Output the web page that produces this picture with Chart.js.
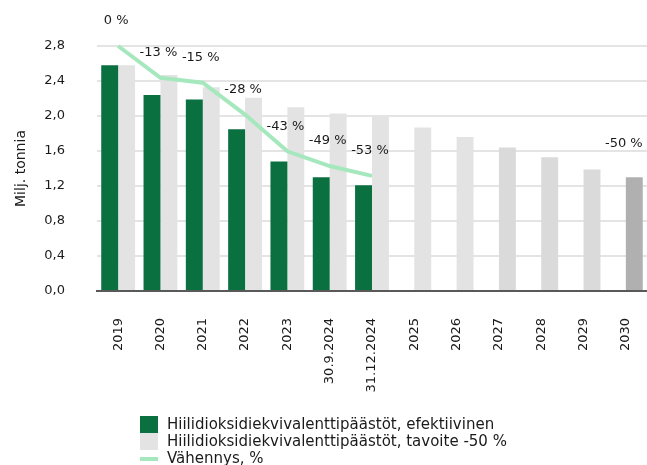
<!DOCTYPE html>
<html>
<head>
<meta charset="utf-8">
<script src="https://cdn.jsdelivr.net/npm/chart.js@4"></script>
<style>
    html, body { margin: 0; padding: 0; background: #fff; }
    #wrap { position: relative; width: 647px; height: 465px; }
    #legend { position: absolute; left: 140px; top: 416px; font-family: "DejaVu Sans", sans-serif; font-size: 15px; color: #1a1a1a; }
    #legend div { height: 17px; line-height: 17px; white-space: nowrap; }
    #legend span.box { display: inline-block; width: 18px; height: 17px; vertical-align: top; margin-right: 9px; }
    #legend span.line { display: inline-block; width: 18px; height: 4px; vertical-align: middle; margin-right: 9px; }
</style>
</head>
<body>
<div id="wrap">
    <canvas id="grafiikka" width="647" height="465"></canvas>
    <div id="legend"></div>
</div>
<script>
const kategoriat = ['2019', '2020', '2021', '2022', '2023', '30.9.2024', '31.12.2024', '2025', '2026', '2027', '2028', '2029', '2030'];
const efektiivinen = [2.58, 2.24, 2.19, 1.85, 1.48, 1.30, 1.21, null, null, null, null, null, null];
const tavoite = [2.58, 2.47, 2.33, 2.21, 2.10, 2.03, 1.99, 1.87, 1.76, 1.64, 1.53, 1.39, 1.30];
const vahennys = [0, -13, -15, -28, -43, -49, -53, null, null, null, null, null, -50];
const yTikit = ['0,0', '0,4', '0,8', '1,2', '1,6', '2,0', '2,4', '2,8'];

const fontti = '"DejaVu Sans", sans-serif';
const vihrea = '#0b7040';
const harmaat = tavoite.map(function (v, i) {
    if (i === tavoite.length - 1) return '#b0b0b0';
    if (i >= 9) return '#dadada';
    return '#e3e3e3';
});

// prosenttiluvut viivan pisteiden yläpuolelle
const prosenttiPlugin = {
    id: 'prosentit',
    afterDatasetsDraw: function (chart) {
        const ctx = chart.ctx;
        const meta = chart.getDatasetMeta(2);
        ctx.save();
        ctx.font = '13px ' + fontti;
        ctx.fillStyle = '#1a1a1a';
        ctx.textAlign = 'center';
        ctx.textBaseline = 'middle';
        vahennys.forEach(function (v, i) {
            if (v === null) return;
            const p = meta.data[i];
            const teksti = (v === 0 ? '0' : '-' + Math.abs(v)) + ' %';
            ctx.fillText(teksti, p.x - 2, p.y - 25);
        });
        ctx.restore();
    }
};

const ctx = document.getElementById('grafiikka').getContext('2d');
const chart = new Chart(ctx, {
    data: {
        labels: kategoriat,
        datasets: [
            {
                type: 'bar',
                label: 'Hiilidioksidiekvivalenttipäästöt, efektiivinen',
                data: efektiivinen,
                backgroundColor: vihrea,
                categoryPercentage: 0.8,
                barPercentage: 1.0,
                order: 2
            },
            {
                type: 'bar',
                label: 'Hiilidioksidiekvivalenttipäästöt, tavoite -50 %',
                data: tavoite,
                backgroundColor: harmaat,
                categoryPercentage: 0.8,
                barPercentage: 1.0,
                order: 3
            },
            {
                type: 'line',
                label: 'Vähennys, %',
                data: vahennys,
                yAxisID: 'y2',
                borderColor: '#a6e8bd',
                borderWidth: 4,
                pointRadius: 0,
                tension: 0,
                spanGaps: false,
                clip: false,
                order: 1
            }
        ]
    },
    options: {
        responsive: false,
        animation: false,
        layout: { padding: { top: 46, right: 0, bottom: 0, left: 0 } },
        plugins: {
            legend: { display: false },
            tooltip: { enabled: false }
        },
        scales: {
            x: {
                grid: { display: false, drawTicks: false },
                border: { color: '#595959', width: 2 },
                ticks: {
                    font: { family: fontti, size: 13 },
                    color: '#1a1a1a',
                    maxRotation: 90,
                    minRotation: 90,
                    autoSkip: false,
                    padding: 27
                },
                afterFit: function (scale) {
                    scale.height = 174;
                    scale.paddingLeft = 0;
                    scale.paddingRight = 0;
                }
            },
            y: {
                min: 0,
                max: 2.8,
                grid: { color: '#e4e4e4', lineWidth: 2, drawTicks: false },
                border: { display: false },
                ticks: {
                    stepSize: 0.4,
                    font: { family: fontti, size: 13 },
                    color: '#1a1a1a',
                    padding: 32,
                    callback: function (value, index) { return yTikit[index]; }
                },
                title: {
                    display: true,
                    text: 'Milj. tonnia',
                    font: { family: fontti, size: 14 },
                    color: '#1a1a1a',
                    padding: { top: 13, bottom: 0 }
                },
                afterFit: function (scale) {
                    scale.width = 97;
                    scale.paddingTop = 0;
                    scale.paddingBottom = 0;
                }
            },
            y2: {
                display: false,
                min: -100,
                max: 0
            }
        }
    },
    plugins: [prosenttiPlugin]
});

// selite alas vasemmalle
const legend = document.getElementById('legend');
chart.data.datasets.forEach(function (ds, i) {
    const rivi = document.createElement('div');
    const merkki = document.createElement('span');
    if (ds.type === 'line') {
        merkki.className = 'line';
        merkki.style.background = ds.borderColor;
    } else {
        merkki.className = 'box';
        merkki.style.background = i === 0 ? vihrea : '#e3e3e3';
    }
    rivi.appendChild(merkki);
    rivi.appendChild(document.createTextNode(ds.label));
    legend.appendChild(rivi);
});
</script>
</body>
</html>
